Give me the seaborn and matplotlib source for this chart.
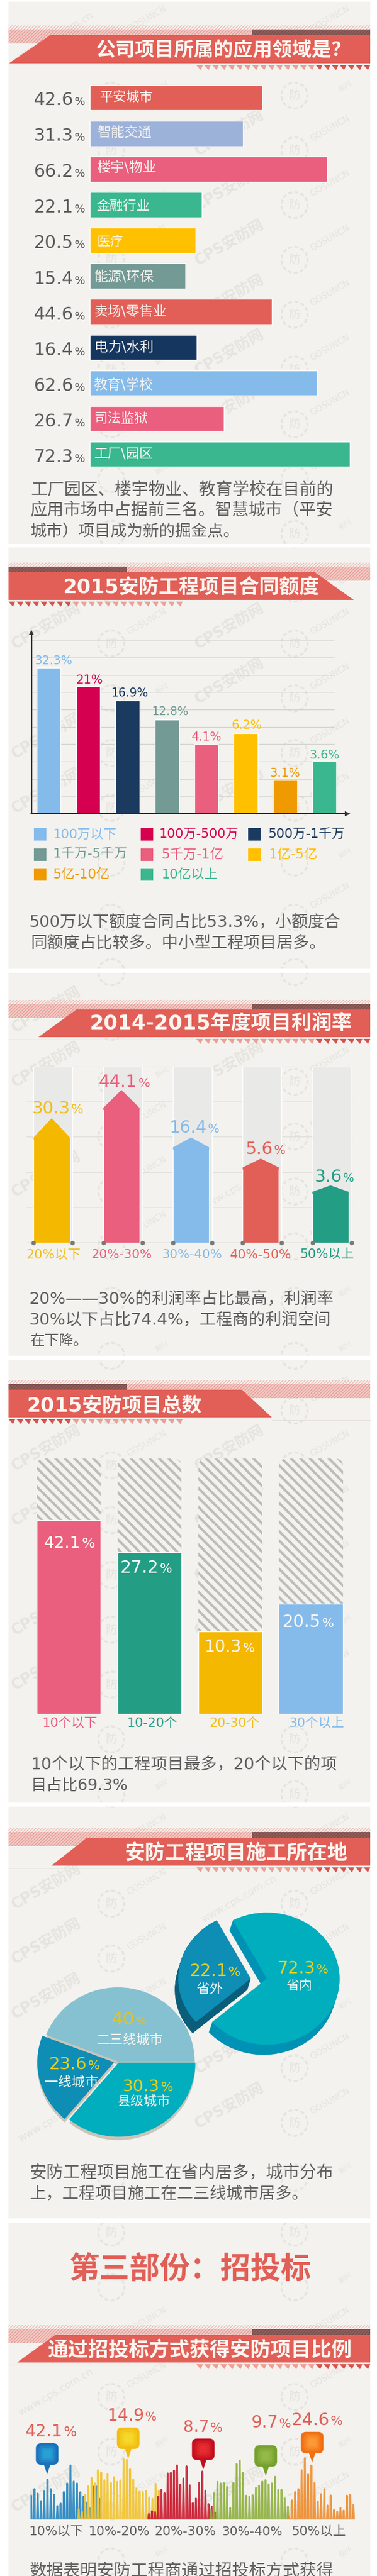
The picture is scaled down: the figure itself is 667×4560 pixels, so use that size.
import numpy as np
import pandas as pd
import matplotlib
matplotlib.use("Agg")
import matplotlib.pyplot as plt
from matplotlib.patches import Rectangle, Polygon, FancyBboxPatch, Circle
import seaborn as sns

# ---------- data ----------
app_names = ["平安城市", "智能交通", "楼宇\\物业", "金融行业", "医疗", "能源\\环保", "卖场\\零售业", "电力\\水利", "教育\\学校", "司法监狱", "工厂\\园区"]
app_labels = ["42.6", "31.3", "66.2", "22.1", "20.5", "15.4", "44.6", "16.4", "62.6", "26.7", "72.3"]
app_drawn = [48.0, 42.6, 66.0, 31.2, 29.4, 26.6, 50.6, 29.8, 63.2, 37.3, 72.3]

contract_names = ["100万以下", "100万-500万", "500万-1千万", "1千万-5千万", "5千万-1亿", "1亿-5亿", "5亿-10亿", "10亿以上"]
contract_labels = ["32.3%", "21%", "16.9%", "12.8%", "4.1%", "6.2%", "3.1%", "3.6%"]
contract_drawn = [8.42, 7.34, 6.54, 5.41, 4.03, 4.64, 1.92, 3.02]

profit_names = ["20%以下", "20%-30%", "30%-40%", "40%-50%", "50%以上"]
profit_labels = ["30.3", "44.1", "16.4", "5.6", "3.6"]
profit_shoulder = [2.98, 3.82, 2.70, 2.13, 1.44]
profit_tip = [3.53, 4.33, 2.98, 2.38, 1.62]

count_names = ["10个以下", "10-20个", "20-30个", "30个以上"]
count_labels = ["42.1", "27.2", "10.3", "20.5"]
count_drawn = [0.759, 0.633, 0.323, 0.431]

city_names = ["二三线城市", "一线城市", "县级城市"]
city_labels = ["40", "23.6", "30.3"]
city_drawn = [159, 71, 130]
prov_names = ["省内", "省外"]
prov_labels = ["72.3", "22.1"]
prov_drawn = [257, 103]

bid_names = ["10%以下", "10%-20%", "20%-30%", "30%-40%", "50%以上"]
bid_labels = ["42.1", "14.9", "8.7", "9.7", "24.6"]
bid_blue = [42.7, 54, 46, 32.7, 50, 70.7, 54, 44, 24, 28.3, 49, 64, 96, 67.3, 64, 48.3, 40.7, 30, 20, 58.3, 58.3, 36.7]
bid_yellow = [18.3, 14, 44, 59.3, 74, 64, 87.3, 83.3, 70, 80.7, 65, 75, 66.7, 69.3, 106.7, 106, 89.3, 70.7, 55, 49.3, 49, 50.7, 39.3, 36.7, 63.3, 50.7]
bid_red = [10, 15, 13.3, 40.7, 52.7, 46.7, 81.7, 82.7, 86.7, 96, 61.7, 72.7, 94.3, 60.7, 29.3, 37.3, 65, 85, 51, 27.3, 22.7, 12.7]
bid_green = [16.7, 46.7, 66.7, 64, 65, 57.7, 20.7, 65, 98.3, 104, 82.7, 42.3, 40.7, 43.3, 56, 60, 67.3, 70, 62.3, 64, 75.7, 52.7, 52.7, 37.3, 22.7]
bid_orange = [5, 34, 49, 54, 87.3, 108.7, 80, 95.7, 65, 31.7, 45, 54, 25, 42.7, 17.3, 14, 20.7, 16, 42.7, 44, 26.7]

# ---------- style ----------
sns.set_theme(style="white")
plt.rcParams["font.family"] = ["DejaVu Sans", "Noto Sans CJK SC"]
W, H = 667, 4560
RED, PERI, PINK, GREEN, YEL, GTEAL, NAVY, LBLUE = "#E15F57", "#9DB2D9", "#EA5F7D", "#3AB78F", "#FFC000", "#739A95", "#15365F", "#85BBEB"
CRIM, ORG, TEAL, DGREEN, YEL2 = "#D5004F", "#EF9A00", "#00AEBD", "#239E85", "#F5B800"
PAPER, TXT = "#F3F2EE", "#606060"
COMMA, LP, RP, COLON, QM = "\uff0c", "\uff08", "\uff09", "\uff1a", "\uff1f"

fig = plt.figure(figsize=(W / 100, H / 100), dpi=100, facecolor="white")


def px_axes(x0, y0, x1, y1, z=1):
    ax = fig.add_axes([x0 / W, 1 - y1 / H, (x1 - x0) / W, (y1 - y0) / H], zorder=z)
    ax.patch.set_alpha(0)
    return ax


bg = px_axes(0, 0, W, H, 0)
top = px_axes(0, 0, W, H, 5)
for a in (bg, top):
    a.set_xlim(0, W)
    a.set_ylim(H, 0)
    a.axis("off")
rend = fig.canvas.get_renderer()


def fit(x0, x1, y, s, color=TXT, weight="normal", va="center", ax=top):
    t = ax.text(x0, y, s, fontsize=20, color=color, fontweight=weight, va=va, ha="left")
    w = t.get_window_extent(rend).width
    t.set_fontsize(20 * (x1 - x0) / w)
    return t


def pct(x0, x1, x2, yc, num, color):
    t = fit(x0, x1, 0, num, color, va="baseline")
    fs = t.get_fontsize() * 100 / 72
    base = yc + 0.365 * fs
    t.set_y(base)
    fit(x1 + (x2 - x1) * 0.08, x2, base, "%", color, va="baseline")


# ---------- panels ----------
panels = [(3, 963), (969, 1714), (1722, 2400), (2408, 3191), (3198, 3927), (3935, 4560)]
WM = "#E5E4DF"
for y0, y1 in panels:
    bg.add_patch(Rectangle((15, y0), 640, y1 - y0, fc=PAPER, ec="none", zorder=0))


# ---------- banners ----------
def banner(ytop, ybot, xb, xt, side, title, tx0, tx1, ty):
    bt, bb = ytop - 17, ytop + 15
    bg.add_patch(Rectangle((15, bt), 640, 7, fc="none", ec="#EDB9B3", hatch="//////", lw=0, zorder=1))
    if side == "right":
        sx0, sx1, dx0, dx1 = 15, 446, 446, 655
        poly = [(xb, ybot), (xt, ytop), (655, ytop), (655, ybot)]
        zz = 347, 655
    else:
        sx0, sx1, dx0, dx1 = 224, 655, 15, 224
        poly = [(15, ytop), (xt, ytop), (xb, ybot), (15, ybot)]
        zz = 15, 324
    bg.add_patch(Rectangle((sx0, bt + 7), sx1 - sx0, bb - bt - 7, fc="#F2CBC6", ec="#E79C95", hatch="//////", lw=0, zorder=1))
    bg.add_patch(Rectangle((dx0, ytop - 10), dx1 - dx0, 10, fc="#8F5F5B", ec="#7A4B48", hatch="//////", lw=0, zorder=1))
    bg.add_patch(Polygon(poly, closed=True, fc=RED, ec="none", zorder=2))
    n = int((zz[1] - zz[0]) / 14.1)
    for k in range(n + 1):
        x = zz[0] + k * 14.1
        dark = (x > 557) if side == "right" else (x < 120)
        c = "#D8514C" if dark else "#EBA096"
        bg.add_patch(Polygon([(x, ybot + 3), (x + 12, ybot + 3), (x + 8, ybot + 12)], closed=True, fc=c, ec="none", zorder=2))
    fit(tx0, tx1, ty, title, "#FBF5F0", "bold")


banner(62, 112, 16, 89, "right", "公司项目所属的应用领域是" + QM, 170, 621, 89)
banner(1013, 1062, 626, 557, "left", "2015安防工程项目合同额度", 111, 564, 1040)
banner(1787, 1836, 68, 135, "right", "2014-2015年度项目利润率", 158, 623, 1813)
banner(2460, 2509, 481, 428, "left", "2015安防项目总数", 47, 357, 2488)
banner(3253, 3302.5, 91, 154, "right", "安防工程项目施工所在地", 221, 615, 3281)
banner(4133, 4182, 30, 98, "right", "通过招投标方式获得安防项目比例", 84, 622, 4160)
for y, a, b in [(1840, 15, 347), (2514, 481, 655), (3307, 15, 347), (4186, 15, 347)]:
    bg.plot([a, b], [y, y], color="#E2DFDA", lw=0.8, zorder=1)


# ---------- descriptions ----------
def para(lines):
    for x0, x1, y, s in lines:
        fit(x0, x1, y, s)


para([(54, 590, 867, "工厂园区、楼宇物业、教育学校在目前的"),
      (54, 590, 904, "应用市场中占据前三名。智慧城市" + LP + "平安"),
      (54, 425, 941, "城市" + RP + "项目成为新的掘金点。"),
      (52, 604, 1633, "500万以下额度合同占比53.3%" + COMMA + "小额度合"),
      (54, 575, 1670, "同额度占比较多。中小型工程项目居多。"),
      (52, 590, 2300, "20%——30%的利润率占比最高" + COMMA + "利润率"),
      (52, 586, 2337, "30%以下占比74.4%" + COMMA + "工程商的利润空间"),
      (53, 155, 2374, "在下降。"),
      (55, 596, 3124.5, "10个以下的工程项目最多" + COMMA + "20个以下的项"),
      (55, 226, 3162, "目占比69.3%"),
      (53, 590, 3846.5, "安防工程项目施工在省内居多" + COMMA + "城市分布"),
      (53, 545, 3883.7, "上" + COMMA + "工程项目施工在二三线城市居多。"),
      (53, 590, 4552, "数据表明安防工程商通过招投标方式获得")])

# ---------- chart 1: horizontal bars ----------
c1 = [RED, PERI, PINK, GREEN, YEL, GTEAL, RED, NAVY, LBLUE, PINK, GREEN]
ax = px_axes(158.7, 141.6, 655, 835.7)
sns.barplot(x=app_drawn, y=app_names, hue=app_names, palette=c1, legend=False, orient="h", width=0.707,
            saturation=1, errorbar=None, ax=ax)
ax.set_xlim(0, 78)
ax.set_ylim(10.5, -0.5)
ax.axis("off")
yc1 = [273, 373, 472, 572, 671, 770, 869, 968, 1067, 1166, 1265]
ynm = [270, 368, 466, 572, 672, 770, 865, 963, 1068, 1162, 1260]
xn = [(415, 636), (405, 630), (403, 652), (400, 623), (403, 512), (392, 640), (392, 695), (392, 638), (388, 637), (392, 616), (392, 637)]
for i, lab in enumerate(app_labels):
    pct(140 / 2.35, 305 / 2.35, 353 / 2.35, yc1[i] / 1.568, lab, "#5A5A5A")
    fit(xn[i][0] / 2.35, xn[i][1] / 2.35, ynm[i] / 1.568, app_names[i], "#F7F4F0")

# ---------- chart 2: contract bars ----------
c2 = [LBLUE, CRIM, "#1A3A60", GTEAL, PINK, YEL, ORG, GREEN]
ax = px_axes(55, 1117, 619, 1440)
for g in range(1, 11):
    ax.plot([-0.45, 7.24], [g, g], color="#CFCFCB", lw=0.9, zorder=0)
sns.barplot(x=contract_names, y=contract_drawn, hue=contract_names, palette=c2, legend=False, width=0.61,
            saturation=1, errorbar=None, ax=ax)
ax.set_xlim((55 - 86.2) / 69.7, (619 - 86.2) / 69.7)
ax.set_ylim(0, 10.54)
ax.axis("off")
top.plot([55.5, 55.5], [1440, 1122], color="#333333", lw=1.7)
top.plot([55, 612], [1440, 1440], color="#333333", lw=1.7)
top.add_patch(Polygon([(51, 1124), (60, 1124), (55.5, 1115)], fc="#333333", ec="none"))
top.add_patch(Polygon([(610, 1436), (610, 1445), (620, 1440.5)], fc="#333333", ec="none"))
lx = [(145, 303, 333), (316, 428, 400), (463, 618, 445), (632, 785, 510), (797, 922, 598), (963, 1090, 556), (1123, 1250, 723), (1287, 1413, 660)]
for i, s in enumerate(contract_labels):
    a, b, y = lx[i]
    fit(a / 2.35, b / 2.35, 1000 + y / 1.96, s, c2[i])
leg = [(140, 220, 485, 935), (586, 662, 992, 935), (1032, 1115, 1435, 935),
       (140, 220, 530, 1005), (586, 670, 928, 1005), (1032, 1118, 1320, 1005),
       (140, 220, 457, 1075), (586, 670, 905, 1075)]
for i, (sx, a, b, y) in enumerate(leg):
    yy = 1000 + y / 1.96
    top.add_patch(Rectangle((sx / 2.35, yy - 11), 22, 22, fc=c2[i], ec="none"))
    fit(a / 2.35, b / 2.35, yy, contract_names[i], c2[i])

# ---------- chart 3: arrow bars ----------
c3 = [YEL2, PINK, LBLUE, RED, DGREEN]
c3t = ["#EFBE1E", PINK, LBLUE, RED, DGREEN]
ax = px_axes(47, 1887.5, 624, 2199.5)
for g in range(0, 6):
    ax.plot([-0.361, 4.319], [g, g], color="#DEDDD8" if g else "#8A8A8A", lw=0.9, zorder=0)
n3 = len(profit_names)
sns.barplot(x=profit_names, y=[5] * n3, color="#E9E9E7", width=0.52, saturation=1, errorbar=None, ax=ax, zorder=0.5)
for p in ax.patches:
    p.set_width(0.56)
sns.barplot(x=profit_names, y=profit_shoulder, hue=profit_names, palette=c3, legend=False, width=0.52,
            saturation=1, errorbar=None, ax=ax, zorder=2)
for i in range(n3):
    sh = profit_shoulder[i]
    ax.add_patch(Polygon([(i - 0.26, sh - 0.06), (i - 0.26, sh), (i, profit_tip[i]), (i + 0.26, sh), (i + 0.26, sh - 0.06)],
                         fc=c3[i], ec="none", zorder=2))
    for xx in (i - 0.26, i + 0.30):
        ax.plot([xx], [0], "o", ms=4.6, color="#7A7A7A", clip_on=False, zorder=3)
ax.set_xlim(-0.361, 4.319)
ax.set_ylim(0, 5)
ax.axis("off")
pl = [(133, 292, 347, 470), (410, 570, 623, 365), (705, 860, 912, 548), (1022, 1135, 1187, 632), (1308, 1422, 1472, 742)]
pc = [(108, 335), (380, 632), (672, 922), (957, 1212), (1245, 1470)]
for i in range(n3):
    a, b, c, y = pl[i]
    pct(a / 2.35, b / 2.35, c / 2.35, 1750 + y / 2.24, profit_labels[i], c3t[i])
    fit(pc[i][0] / 2.35, pc[i][1] / 2.35, 2221, profit_names[i], c3t[i])

# ---------- chart 4: hatched tracks ----------
c4 = [PINK, DGREEN, YEL2, LBLUE]
ax = px_axes(50, 2582, 620, 3034)
spacing, first = 142.9, 121.5
with plt.rc_context({"hatch.linewidth": 3.2}):
    sns.barplot(x=count_names, y=[1] * 4, color=PAPER, width=113.5 / spacing, saturation=1, errorbar=None, ax=ax, zorder=1)
    for p in ax.patches:
        p.set_hatch("\\\\")
        p.set_edgecolor("#BEBDB9")
        p.set_linewidth(0)
for i, p in enumerate(list(ax.patches)):
    cx = first + i * spacing
    clipb = FancyBboxPatch((cx - 56.75, 2582), 113.5, 470, boxstyle="round,pad=0,rounding_size=14", transform=top.transData)
    p.set_clip_path(clipb)
sns.barplot(x=count_names, y=count_drawn, hue=count_names, palette=c4, legend=False, width=113.5 / spacing,
            saturation=1, errorbar=None, ax=ax, zorder=2)
ax.set_xlim((50 - first) / spacing, (620 - first) / spacing)
ax.set_ylim(0, 1)
ax.axis("off")
cl = [(183, 335, 395, 645), (500, 660, 715, 730), (850, 1005, 1058, 1005), (1175, 1335, 1388, 918)]
cc = [(175, 405), (527, 737), (870, 1078), (1202, 1432)]
c4t = [PINK, DGREEN, "#F2BE1A", LBLUE]
for i in range(4):
    a, b, c, y = cl[i]
    pct(a / 2.35, b / 2.35, c / 2.35, 2400 + y / 1.96, count_labels[i], "#FBF8F4")
    fit(cc[i][0] / 2.35, cc[i][1] / 2.35, 3050.5, count_names[i], c4t[i])


# ---------- chart 5: pies ----------
def pie_axes(cx, cy, rx, ry, m=1.5):
    return px_axes(cx - m * rx, cy - m * ry, cx + m * rx, cy + m * ry, 1)


def finish(ax, m=1.5):
    ax.set_aspect("auto")
    ax.set_xlim(-m, m)
    ax.set_ylim(-m, m)


rx, ry = 136, 131
ax = pie_axes(208.5, 3649, rx, ry)
ax.pie(city_drawn, colors=["#C9C5B8"] * 3, startangle=0, counterclock=True, center=(0, -6 / ry), explode=[0, 0.05, 0.02],
       wedgeprops=dict(lw=0))
ax.pie(city_drawn, colors=["#86C1D1", "#0E8DB5", TEAL], startangle=0, counterclock=True, explode=[0, 0.05, 0.02],
       wedgeprops=dict(lw=0))
finish(ax)
rx, ry = 128.5, 117
ax = pie_axes(472.3, 3502.5, rx, ry)
for f in np.arange(1, 0, -1 / 24):
    ax.pie(prov_drawn, colors=["#0092B5", "none"], startangle=221, center=(-6 * f / rx, -18 * f / ry), wedgeprops=dict(lw=0))
    ax.pie(prov_drawn, colors=["none", "#0A5E7A"], startangle=221, center=((-28.5 - 6 * f) / rx, -20 * f / ry), wedgeprops=dict(lw=0))
ax.pie(prov_drawn, colors=[TEAL, "none"], startangle=221, wedgeprops=dict(lw=0))
ax.pie(prov_drawn, colors=["none", "#0E8DB5"], startangle=221, center=(-28.5 / rx, 0), wedgeprops=dict(lw=0))
finish(ax)
PY = "#E7CF22"
zy = lambda v: 3150 + v / 1.96
pct(465 / 2.35, 560 / 2.35, 608 / 2.35, zy(828), city_labels[0], "#E6C21C")
pct(205 / 2.35, 362 / 2.35, 415 / 2.35, zy(985), city_labels[1], PY)
pct(510 / 2.35, 665 / 2.35, 720 / 2.35, zy(1060), city_labels[2], PY)
pct(788 / 2.35, 945 / 2.35, 1000 / 2.35, zy(660), prov_labels[1], PY)
pct(1153 / 2.35, 1310 / 2.35, 1363 / 2.35, zy(650), prov_labels[0], PY)
fit(400 / 2.35, 677 / 2.35, zy(905), city_names[0], "#F5F5F0")
fit(185 / 2.35, 408 / 2.35, zy(1050), city_names[1], "#F5F5F0")
fit(487 / 2.35, 708 / 2.35, zy(1118), city_names[2], "#F5F5F0")
fit(815 / 2.35, 927 / 2.35, zy(727), prov_names[1], "#F5F5F0")
fit(1190 / 2.35, 1298 / 2.35, zy(716), prov_names[0], "#F5F5F0")

# ---------- chart 6: spikes ----------
fit(287 / 2.35, 1292 / 2.35, 4017, "第三部份" + COLON + "招投标", RED, "bold")
ax = px_axes(54, 4340, 630, 4460)
series = [("blue", bid_blue, 55, 5.8, "#2183BF"), ("yellow", bid_yellow, 139.3, 5.67, "#F1C22C"),
          ("red", bid_red, 263.3, 5.56, "#C9152B"), ("green", bid_green, 373.3, 5.67, "#8DAF3C"),
          ("orange", bid_orange, 510.7, 5.73, "#EE8B2C")]
for name, vals, x0, step, col in series:
    xs, ys = [], []
    for k, h in enumerate(vals):
        cx = x0 + k * step
        xs += [cx - 1.1, cx, cx + 1.1]
        ys += [0, h, 0]
    df = pd.DataFrame({"x": xs, "y": ys})
    sns.lineplot(data=df, x="x", y="y", estimator=None, sort=False, color=col, lw=2.3, alpha=0.88,
                 solid_joinstyle="round", ax=ax)
ax.set_xlim(54, 630)
ax.set_ylim(0, 120)
ax.axis("off")
pins = [(83.4, 4344, 4380, "#1A72BC", "#2AA6D8"), (226.8, 4316, 4352.5, "#F4BD12", "#F6DC2E"),
        (359.6, 4335.6, 4371.5, "#C40F1E", "#EA3034"), (470.2, 4347.4, 4383, "#76A12E", "#97BC4C"),
        (552.3, 4323.8, 4358.7, "#F26F12", "#FB9E3C")]
for cx, cy, tip, c0, c1_ in pins:
    top.add_patch(Polygon([(cx - 7, cy + 15), (cx + 7, cy + 15), (cx, tip)], fc=c0, ec="none"))
    top.add_patch(FancyBboxPatch((cx - 20, cy - 19), 40, 38, boxstyle="round,pad=0,rounding_size=9", fc=c0, ec="none"))
    for d, al in [(15, 0.35), (11, 0.5), (7, 0.7)]:
        top.add_patch(FancyBboxPatch((cx - d, cy - d), 2 * d, 2 * d, boxstyle=f"round,pad=0,rounding_size={d*0.6}", fc=c1_, ec="none", alpha=al))
bl = [(105, 260, 318, 955), (445, 600, 652, 888), (762, 870, 926, 938), (1043, 1155, 1208, 918), (1212, 1370, 1425, 907)]
bc = [(122, 348), (368, 622), (642, 897), (922, 1175), (1210, 1437)]
for i in range(5):
    a, b, c, y = bl[i]
    pct(a / 2.35, b / 2.35, c / 2.35, 3900 + y / 2.376, bid_labels[i], RED)
    fit(bc[i][0] / 2.35, bc[i][1] / 2.35, 4482, bid_names[i], TXT)

# ---------- watermark: only where it clashes with no text already placed ----------
fg_boxes = [t.get_window_extent(rend) for t in top.texts] + [t.get_window_extent(rend) for t in bg.texts]
kept = []


def clashes(b):
    for o in fg_boxes + kept:
        if b.x0 < o.x1 and b.x1 > o.x0 and b.y0 < o.y1 and b.y1 > o.y0:
            return True
    return False


def wm_text(x, y, s, fs, y0, y1, rot=30, weight="normal"):
    t = bg.text(x, y, s, fontsize=fs, fontweight=weight, rotation=rot, color=WM, ha="center", va="center", zorder=0.5)
    b = t.get_window_extent(rend)
    if b.x0 < 16 or b.x1 > 654 or H - b.y1 < y0 + 1 or H - b.y0 > y1 - 1 or clashes(b):
        t.remove()
    else:
        kept.append(b)


for y0, y1 in panels:
    clip = Rectangle((15, y0), 640, y1 - y0, transform=bg.transData)
    rows = [3340 + 97 * r for r in range(-60, 60) if y0 - 60 <= 3340 + 97 * r <= y1 + 60]
    for yy in rows:
        for x in (82, 406):
            wm_text(x, yy, "CPS安防网", 19, y0, y1, weight="bold")
            wm_text(x + 115, yy + 30, "防", 15, y0, y1, rot=0)
            wm_text(x + 178, yy - 8, "GOSUNCN", 11, y0, y1)
            wm_text(x + 205, yy + 14, "新兴", 9, y0, y1)
            e = Circle((x + 115, yy + 30), 23, fc="none", ec=WM, lw=2.5, ls=(0, (2, 1.2)), zorder=0.5)
            bg.add_patch(e)
            e.set_clip_path(clip)
    for yy in rows:
        for x in (99, 423):
            wm_text(x, yy + 22, "www.cps.com.cn", 13, y0, y1)

fig.savefig("out.png", dpi=100, facecolor="white")
